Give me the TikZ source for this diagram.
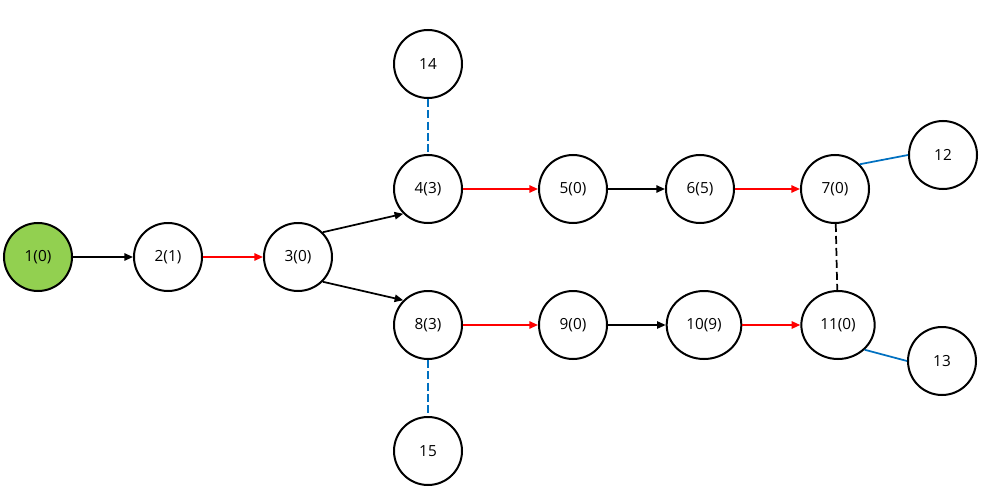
\documentclass[tikz,border=0pt]{standalone}
\usepackage{fontspec}
\setmainfont{Open Sans}
\usetikzlibrary{arrows.meta,positioning,shapes.geometric}
\definecolor{vgreen}{RGB}{146,208,80}
\definecolor{vblue}{RGB}{0,112,192}
\tikzset{
  vertex/.style={
    circle,
    draw=black,
    line width=1.5pt,
    minimum size=51pt,
    inner sep=1pt,
    font=\fontsize{11.5}{13}\selectfont
  },
  source/.style={
    vertex,
    fill=vgreen
  },
  wide/.style={
    vertex,
    ellipse,
    minimum width=56pt,
    minimum height=51pt
  },
  arr/.style={-{Triangle[length=6.5pt,width=5.5pt]},line width=1.3pt,black},
  redarr/.style={arr,red},
  branch/.style={line width=1.3pt,vblue},
  dashbranch/.style={branch,dash pattern=on 6pt off 2.5pt},
  link/.style={line width=1.3pt,black,dash pattern=on 6pt off 3pt}
}
\begin{document}
\begin{tikzpicture}[on grid]
        \useasboundingbox (-28.5pt,192.75pt) rectangle (715.5pt,-177pt);
        \node[source] (v1) {1(0)};
        \node[vertex,right=97.5pt of v1] (v2) {2(1)};
        \node[vertex,right=97.5pt of v2] (v3) {3(0)};
        \node[vertex,above right=51pt and 97.5pt of v3] (v4) {4(3)};
        \node[vertex,right=108.75pt of v4] (v5) {5(0)};
        \node[vertex,right=95.25pt of v5] (v6) {6(5)};
        \node[vertex,right=101.25pt of v6] (v7) {7(0)};
        \node[vertex,below right=51pt and 97.5pt of v3] (v8) {8(3)};
        \node[vertex,right=108.75pt of v8] (v9) {9(0)};
        \node[wide,right=98.25pt of v9] (v10) {10(9)};
        \node[wide,minimum width=55pt,right=100.5pt of v10] (v11) {11(0)};
        \node[vertex,above right=25.5pt and 81pt of v7] (v12) {12};
        \node[vertex,below right=27pt and 78pt of v11] (v13) {13};
        \node[vertex,above=93.75pt of v4] (v14) {14};
        \node[vertex,below=94.5pt of v8] (v15) {15};

        \draw[arr] (v1) -- (v2);
        \draw[redarr] (v2) -- (v3);
        \draw[arr] (v3.north east) -- (v4.south west);
        \draw[arr] (v3.south east) -- (v8.north west);

        \draw[redarr] (v4) -- (v5);
        \draw[arr] (v5) -- (v6);
        \draw[redarr] (v6) -- (v7);
        \draw[redarr] (v8) -- (v9);
        \draw[arr] (v9) -- (v10);
        \draw[redarr] (v10) -- (v11);

        \draw[dashbranch] (v14) -- (v4);
        \draw[dashbranch] (v8) -- (v15);
        \draw[branch] (v7.north east) -- (v12.west);
        \draw[branch] (v11.south east) -- (v13.west);
        \draw[link] (v7) -- (v11);
      \end{tikzpicture}
\end{document}
